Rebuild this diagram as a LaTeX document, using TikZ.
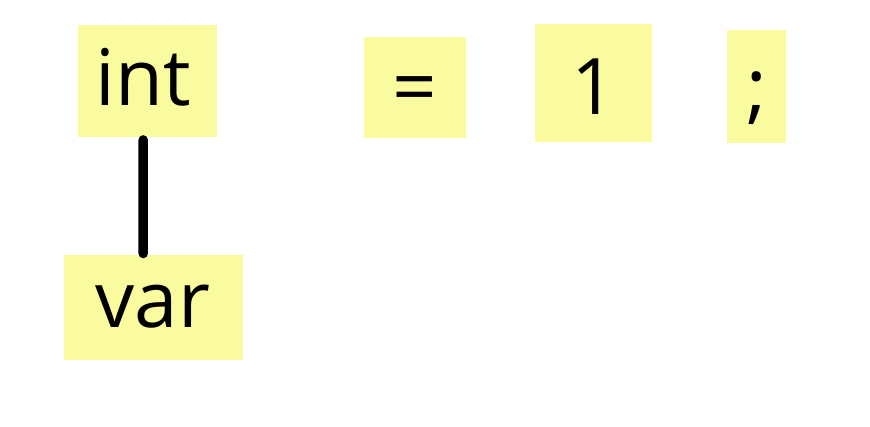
\documentclass[tikz,border=0pt]{standalone}
\usepackage{fontspec}
\setmainfont{Open Sans}
\definecolor{boxyellow}{RGB}{250,250,158}
\begin{document}
\begin{tikzpicture}[x=1bp,y=-1bp,
  tok/.style={fill=boxyellow, draw=none, inner sep=0pt, anchor=north west},
  txt/.style={inner sep=0pt, anchor=base, font=\fontsize{78bp}{90bp}\selectfont},
  edge/.style={line width=9.5bp, line cap=round, draw=black}
]
\useasboundingbox (0,0) rectangle (870,426);
% boxes
\node[tok, minimum width=139bp, minimum height=112bp] (intbox) at (78,25) {};
\node[tok, minimum width=179bp, minimum height=105bp] (varbox) at (64,255) {};
\node[tok, minimum width=102bp, minimum height=101bp] (eqbox) at (364,37) {};
\node[tok, minimum width=117bp, minimum height=118bp] (onebox) at (535,24) {};
\node[tok, minimum width=59bp, minimum height=113bp] (semibox) at (727,30) {};
% texts
\node[txt] (int) at (143,105) {int};
\node[txt] (var) at (153,327) {var};
\node[txt] (eq) at (415,114) {=};
\node[txt] (one) at (593.5,114) {1};
\node[txt] (semi) at (756.5,114) {;};
% connector
\draw[edge] ([xshift=-4.5bp,yshift=-2.5bp]intbox.south) -- ([xshift=-10.5bp,yshift=1.5bp]varbox.north);
\end{tikzpicture}
\end{document}
